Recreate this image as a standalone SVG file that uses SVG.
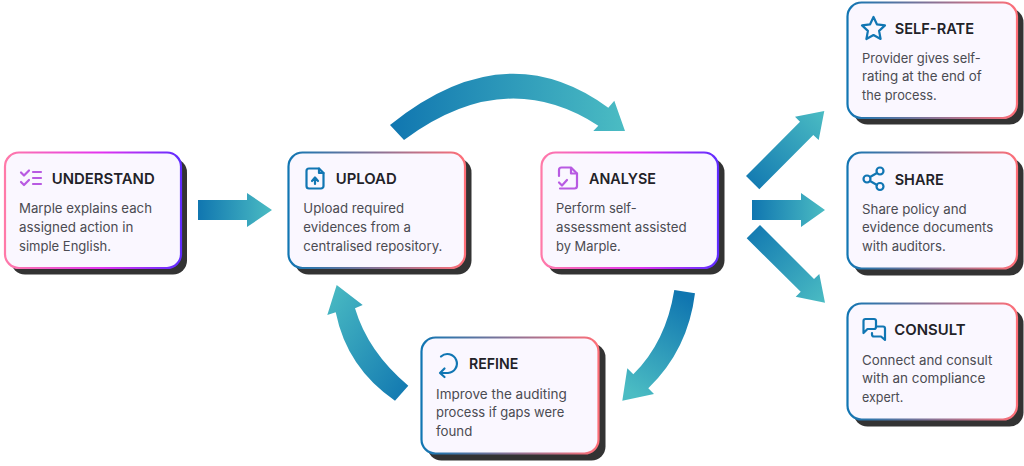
<svg xmlns="http://www.w3.org/2000/svg" width="1024" height="466" viewBox="0 0 1024 466">
<defs>
<linearGradient id="bp" x1="0" y1="0" x2="1" y2="0"><stop offset="0" stop-color="#ff7aa8"/><stop offset=".55" stop-color="#e233f0"/><stop offset="1" stop-color="#5f2cff"/></linearGradient>
<linearGradient id="br" x1="0" y1="0" x2="1" y2="0"><stop offset="0" stop-color="#1176b3"/><stop offset="1" stop-color="#ff6f78"/></linearGradient>
<linearGradient id="ah" x1="0" y1="0" x2="1" y2="0"><stop offset="0" stop-color="#1076b0"/><stop offset="1" stop-color="#4bbcc3"/></linearGradient>
<linearGradient id="aup" x1="0" y1="1" x2="1" y2="0"><stop offset="0" stop-color="#1076b0"/><stop offset="1" stop-color="#4bbcc3"/></linearGradient>
<linearGradient id="adn" x1="0" y1="0" x2="1" y2="1"><stop offset="0" stop-color="#1076b0"/><stop offset="1" stop-color="#4bbcc3"/></linearGradient>
<linearGradient id="ab" x1="1" y1="1" x2="0" y2="0"><stop offset="0" stop-color="#1076b0"/><stop offset="1" stop-color="#4bbcc3"/></linearGradient>
<linearGradient id="av" x1="0.7" y1="0" x2="0.3" y2="1"><stop offset="0" stop-color="#1076b0"/><stop offset="1" stop-color="#4bbcc3"/></linearGradient>
</defs>
<style>
.sh{fill:#333}
.c{fill:#faf7ff;stroke-width:2.2}
.p{stroke:url(#bp)}
.r{stroke:url(#br)}
.t{font:600 15px Inter,"Liberation Sans",sans-serif;fill:#222228}
.b{font:400 13px Inter,"Liberation Sans",sans-serif;fill:#4b4b52}
.ib{fill:none;stroke:#1176b3;stroke-width:2.2;stroke-linecap:round;stroke-linejoin:round}
.ip{fill:none;stroke:#b85ae2;stroke-width:2.2;stroke-linecap:round;stroke-linejoin:round}
</style>
<g id="connectors">
<path fill="url(#ah)" d="M198 200H247V193L272 210L247 227V220H198Z"/>
<path fill="url(#ah)" d="M752 200H801V193L825 210L801 227V220H752Z"/>
<path fill="url(#aup)" d="M746 176L800 121.700L795 116.700L824.300 111L818.700 140L813.300 135L759.300 189.300Z"/>
<path fill="url(#adn)" d="M746.700 238.300L760 225L814 279L819.300 274L825 302.700L795.700 296.700L800.700 291.700Z"/>
<path fill="url(#ah)" d="M390 125Q505 32 608.300 107.700L614.300 100.700L625 131H593.300L598.300 125.700Q505 65 404 140Z"/>
<path fill="url(#ab)" d="M408.300 385.700Q368 352 355 308.300L362.700 305L336.700 285L327.300 315L335.700 312.300Q347 368 395 400.700Z"/>
<path fill="url(#av)" d="M674.300 290Q666 342 633.300 374.300L627.300 368.300L622.300 400.700L654 394L648.300 388.300Q688 350 695 293.300Z"/>
</g>
<g id="understand">
<rect class="sh" x="11" y="158.500" width="176" height="116" rx="14"/>
<rect class="c p" x="5" y="152.500" width="176" height="115.500" rx="14"/>
<path class="ip" d="M21 172.500l3 3 5-5M21 182l3 3 5-5M33 172h8M33 178h8M33 184h8"/>
<text class="t" x="51.700" y="184" textLength="103" lengthAdjust="spacingAndGlyphs">UNDERSTAND</text>
<text class="b" x="19" y="213" textLength="133" lengthAdjust="spacingAndGlyphs">Marple explains each</text>
<text class="b" x="19" y="232" textLength="114.300" lengthAdjust="spacingAndGlyphs">assigned action in</text>
<text class="b" x="19" y="251" textLength="92" lengthAdjust="spacingAndGlyphs">simple English.</text>
</g>
<g id="upload">
<rect class="sh" x="294.500" y="158.500" width="177" height="116" rx="14"/>
<rect class="c r" x="288.500" y="152.500" width="176.500" height="115.500" rx="14"/>
<path class="ib" d="M319 168.500H309a2.500 2.500 0 0 0-2.500 2.500V186a2.500 2.500 0 0 0 2.500 2.500H321a2.500 2.500 0 0 0 2.500-2.500V173Z"/>
<path class="ib" d="M319 168.500V173H323.500M315 184V178M312 181L315 177.500L318 181"/>
<text class="t" x="335.700" y="184" textLength="61" lengthAdjust="spacingAndGlyphs">UPLOAD</text>
<text class="b" x="303.300" y="213" textLength="100.700" lengthAdjust="spacingAndGlyphs">Upload required</text>
<text class="b" x="303.300" y="232" textLength="107.700" lengthAdjust="spacingAndGlyphs">evidences from a</text>
<text class="b" x="303.300" y="251" textLength="139" lengthAdjust="spacingAndGlyphs">centralised repository.</text>
</g>
<g id="analyse">
<rect class="sh" x="547.500" y="158.500" width="177" height="116" rx="14"/>
<rect class="c p" x="541.500" y="152.500" width="176.500" height="115.500" rx="14"/>
<path class="ip" d="M559 176V170a2.500 2.500 0 0 1 2.500-2.500H571L577 173.500V186a2.500 2.500 0 0 1-2.500 2.500H560"/>
<path class="ip" d="M571 168V173.500H577M559 182.500L562 185.500L567 180"/>
<text class="t" x="589" y="184" textLength="67" lengthAdjust="spacingAndGlyphs">ANALYSE</text>
<text class="b" x="556" y="213" textLength="80.700" lengthAdjust="spacingAndGlyphs">Perform self-</text>
<text class="b" x="556" y="232" textLength="130.700" lengthAdjust="spacingAndGlyphs">assessment assisted</text>
<text class="b" x="556" y="251" textLength="64.700" lengthAdjust="spacingAndGlyphs">by Marple.</text>
</g>
<g id="self-rate">
<rect class="sh" x="853.500" y="8.500" width="170" height="116" rx="14"/>
<rect class="c r" x="847.500" y="2.500" width="169.500" height="115.500" rx="14"/>
<path class="ib" d="M873.500 17L876.900 24.300L885 25.400L879.100 30.900L880.600 39L873.500 35L866.400 39L867.900 30.900L862 25.400L870.100 24.300Z"/>
<text class="t" x="894.700" y="33.500" textLength="79.300" lengthAdjust="spacingAndGlyphs">SELF-RATE</text>
<text class="b" x="862" y="62.500" textLength="118.700" lengthAdjust="spacingAndGlyphs">Provider gives self-</text>
<text class="b" x="862" y="81" textLength="119.700" lengthAdjust="spacingAndGlyphs">rating at the end of</text>
<text class="b" x="862" y="100" textLength="74.700" lengthAdjust="spacingAndGlyphs">the process.</text>
</g>
<g id="share">
<rect class="sh" x="853.500" y="158.500" width="170" height="117" rx="14"/>
<rect class="c r" x="847.500" y="152.500" width="169.500" height="116" rx="14"/>
<circle class="ib" cx="880" cy="171" r="3.500"/><circle class="ib" cx="867" cy="179" r="3.500"/><circle class="ib" cx="880" cy="186.500" r="3.500"/>
<path class="ib" d="M870 177L877 173M870 181L877 185"/>
<text class="t" x="894.700" y="184.700" textLength="49" lengthAdjust="spacingAndGlyphs">SHARE</text>
<text class="b" x="862" y="213.500" textLength="104.700" lengthAdjust="spacingAndGlyphs">Share policy and</text>
<text class="b" x="862" y="232" textLength="131.300" lengthAdjust="spacingAndGlyphs">evidence documents</text>
<text class="b" x="862" y="251" textLength="83.700" lengthAdjust="spacingAndGlyphs">with auditors.</text>
</g>
<g id="consult">
<rect class="sh" x="853.500" y="309.500" width="170" height="117" rx="14"/>
<rect class="c r" x="847.500" y="303.500" width="169.500" height="116" rx="14"/>
<path class="ib" d="M863.500 333V321a2 2 0 0 1 2-2H874a2 2 0 0 1 2 2V327a2 2 0 0 1-2 2H867.500Z"/>
<path class="ib" d="M876 326.500H883a2 2 0 0 1 2 2V340L881 336.500H874a2 2 0 0 1-2-2V333"/>
<text class="t" x="894.300" y="335.300" textLength="71.300" lengthAdjust="spacingAndGlyphs">CONSULT</text>
<text class="b" x="862" y="364.500" textLength="130.300" lengthAdjust="spacingAndGlyphs">Connect and consult</text>
<text class="b" x="862" y="383" textLength="123.300" lengthAdjust="spacingAndGlyphs">with an compliance</text>
<text class="b" x="862" y="402" textLength="41.300" lengthAdjust="spacingAndGlyphs">expert.</text>
</g>
<g id="refine">
<rect class="sh" x="427.500" y="343.500" width="178" height="117" rx="14"/>
<rect class="c r" x="421.500" y="337.500" width="177" height="116" rx="14"/>
<path class="ib" d="M441 356.500A9.500 9.500 0 1 1 448 373H440M444.500 368.500L440 373L444.500 377"/>
<text class="t" x="469" y="369.300" textLength="49.300" lengthAdjust="spacingAndGlyphs">REFINE</text>
<text class="b" x="436" y="398.500" textLength="130.700" lengthAdjust="spacingAndGlyphs">Improve the auditing</text>
<text class="b" x="436" y="417" textLength="128.300" lengthAdjust="spacingAndGlyphs">process if gaps were</text>
<text class="b" x="436" y="436" textLength="36.300" lengthAdjust="spacingAndGlyphs">found</text>
</g>
</svg>
